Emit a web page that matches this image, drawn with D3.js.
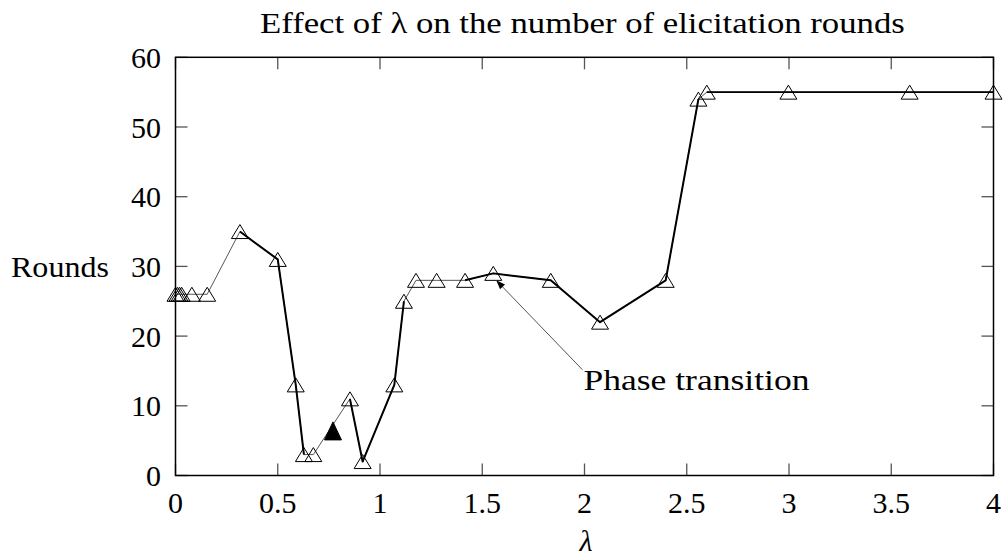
<!DOCTYPE html>
<html>
<head>
<meta charset="utf-8">
<script src="https://cdn.jsdelivr.net/npm/d3@7/dist/d3.min.js"></script>
<style>
  html, body { margin: 0; padding: 0; background: #fff; }
  svg { display: block; }
  text { font-family: "Liberation Serif", "DejaVu Serif", serif; fill: #000; }
</style>
</head>
<body>
<script>
// ---- data ----
const lambdaValues = [0, 0.01, 0.02, 0.03, 0.08, 0.155, 0.315, 0.5, 0.588, 0.628, 0.674,
  0.853, 0.915, 1.07, 1.117, 1.176, 1.277, 1.416, 1.554, 1.835, 2.076, 2.397, 2.557, 2.598, 2.997, 3.59, 4.0];
const roundsValues = [26, 26, 26, 26, 26, 26, 35, 31, 13, 3, 3,
  11, 2, 13, 25, 28, 28, 28, 29, 28, 22, 28, 54, 55, 55, 55, 55];
const highlightLambda = [0.77];
const highlightRounds = [6.4];
const xTicks = [0, 0.5, 1, 1.5, 2, 2.5, 3, 3.5, 4];
const yTicks = [0, 10, 20, 30, 40, 50, 60];
const titleText = "Effect of λ on the number of elicitation rounds";
const xLabel = "λ";
const yLabel = "Rounds";
const annotation = { text: "Phase transition", pointLambda: 1.554, pointRounds: 29, textLambda: 1.99, textRounds: 12.3 };

// ---- layout ----
const W = 1007, H = 559;
const mLeft = 175.5, mRight = 993.5, mTop = 57.3, mBottom = 475.5;
const FS = 30;

const svg = d3.select("body").append("svg").attr("width", W).attr("height", H);

const x = d3.scaleLinear().domain([0, 4]).range([mLeft, mRight]);
const y = d3.scaleLinear().domain([0, 60]).range([mBottom, mTop]);

// text stretched horizontally to a target width (wider serif face in the original)
function wideText(str, tx, ty, width, fs) {
  const t = svg.append("text").attr("x", 0).attr("y", 0).attr("font-size", fs).text(str);
  const w = t.node().getComputedTextLength();
  t.attr("transform", `translate(${tx},${ty}) scale(${width / w},1)`);
  return t;
}

// ticks (inward, all four sides)
const tickLen = 12;
const g = svg.append("g");
const tickStyle = sel => sel.attr("stroke", "#555").attr("stroke-width", 1.3);
g.append("g").selectAll("line").data(xTicks).join("line").call(tickStyle)
  .attr("x1", d => x(d)).attr("x2", d => x(d)).attr("y1", mBottom).attr("y2", mBottom - tickLen);
g.append("g").selectAll("line").data(xTicks).join("line").call(tickStyle)
  .attr("x1", d => x(d)).attr("x2", d => x(d)).attr("y1", mTop).attr("y2", mTop + tickLen);
g.append("g").selectAll("line").data(yTicks).join("line").call(tickStyle)
  .attr("x1", mLeft).attr("x2", mLeft + tickLen).attr("y1", d => y(d)).attr("y2", d => y(d));
g.append("g").selectAll("line").data(yTicks).join("line").call(tickStyle)
  .attr("x1", mRight).attr("x2", mRight - tickLen).attr("y1", d => y(d)).attr("y2", d => y(d));

// frame
svg.append("rect").attr("x", mLeft).attr("y", mTop).attr("width", mRight - mLeft).attr("height", mBottom - mTop)
  .attr("fill", "none").attr("stroke", "#000").attr("stroke-width", 1.5);

// tick labels
svg.append("g").selectAll("text").data(xTicks).join("text")
  .attr("x", d => x(d)).attr("y", 513).attr("text-anchor", "middle").attr("font-size", FS)
  .text(d => d3.format("~g")(d));
svg.append("g").selectAll("text").data(yTicks).join("text")
  .attr("x", 161).attr("y", d => y(d) + 10.5).attr("text-anchor", "end").attr("font-size", FS)
  .text(d => d);

// axis labels and title
wideText(yLabel, 11, 277, 98, FS);
svg.append("text").attr("x", 586).attr("y", 551).attr("text-anchor", "middle")
  .attr("font-size", FS).attr("font-style", "italic").text(xLabel);
wideText(titleText, 260, 33, 645, FS - 1);

// series
const pts = lambdaValues.map((l, i) => [l, roundsValues[i]]);
const line = d3.line().x(d => x(d[0])).y(d => y(d[1]));
svg.append("path").attr("d", line(pts)).attr("fill", "none").attr("stroke", "#555").attr("stroke-width", 1);
const boldRuns = [[6, 9, 2], [11, 14, 2], [17, 22, 2], [23, 26, 1.6]];
boldRuns.forEach(([a, b, w]) => {
  svg.append("path").attr("d", line(pts.slice(a, b + 1))).attr("fill", "none")
    .attr("stroke", "#000").attr("stroke-width", w).attr("stroke-linejoin", "round");
});

// triangle markers
const tri = (cx, cy, w, h) => `M${cx},${cy - h / 2}L${cx + w / 2},${cy + h / 2}L${cx - w / 2},${cy + h / 2}Z`;
svg.append("g").selectAll("path").data(pts).join("path")
  .attr("d", d => tri(x(d[0]), y(d[1]), 17, 14))
  .attr("fill", "none").attr("stroke", "#000").attr("stroke-width", 1);
svg.append("g").selectAll("path").data(highlightLambda.map((l, i) => [l, highlightRounds[i]])).join("path")
  .attr("d", d => tri(x(d[0]), y(d[1]), 17, 18))
  .attr("fill", "#000").attr("stroke", "#000").attr("stroke-width", 1);

// annotation
const ax0 = x(annotation.textLambda), ay0 = y(annotation.textRounds) - 20;
const ax1 = x(annotation.pointLambda) + 3, ay1 = y(annotation.pointRounds) + 7;
svg.append("line").attr("x1", ax0).attr("y1", ay0).attr("x2", ax1).attr("y2", ay1)
  .attr("stroke", "#555").attr("stroke-width", 1);
const ang = Math.atan2(ay1 - ay0, ax1 - ax0);
const aL = 9, aW = 3.5;
const bx = ax1 - aL * Math.cos(ang), by = ay1 - aL * Math.sin(ang);
svg.append("path")
  .attr("d", `M${ax1},${ay1}L${bx + aW * Math.sin(ang)},${by - aW * Math.cos(ang)}L${bx - aW * Math.sin(ang)},${by + aW * Math.cos(ang)}Z`)
  .attr("fill", "#000");
wideText(annotation.text, ax0 + 1, y(annotation.textRounds), 226, FS);
</script>
</body>
</html>
